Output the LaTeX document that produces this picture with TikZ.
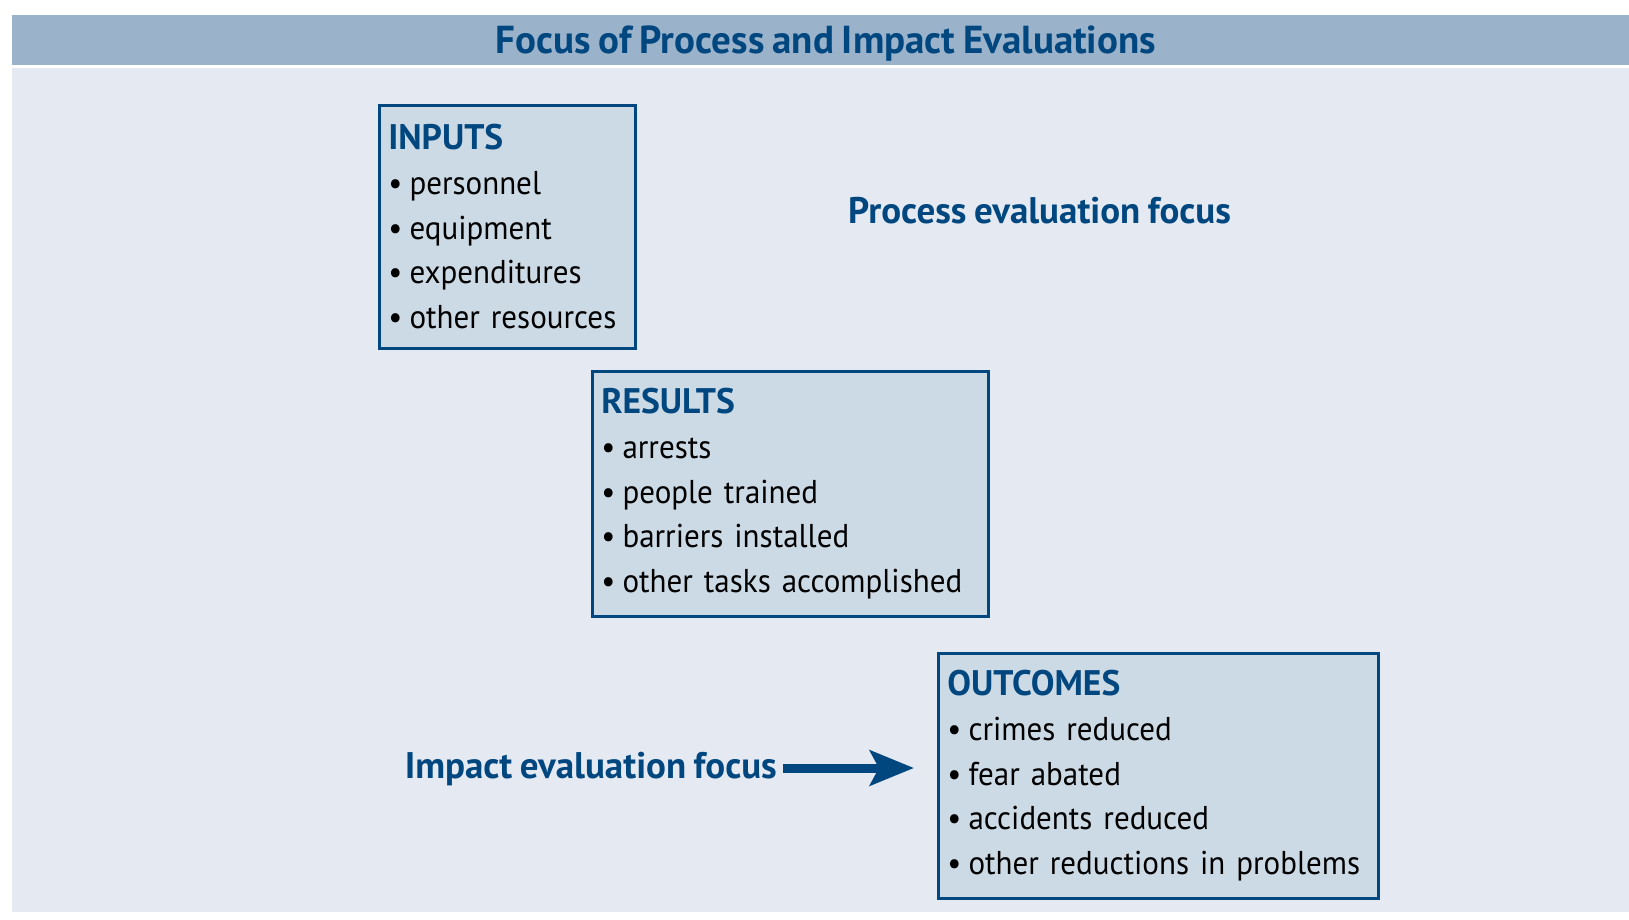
\documentclass[tikz,border=0pt]{standalone}
\usepackage{fontspec}
\setmainfont{PT Sans}[FakeStretch=0.94, WordSpace=0.8, BoldFeatures={FakeStretch=1.0}]
\usetikzlibrary{arrows.meta}
\definecolor{dblue}{HTML}{00467F}
\definecolor{barc}{HTML}{9AB3CB}
\definecolor{bgc}{HTML}{E5EAF2}
\definecolor{boxc}{HTML}{CCDAE5}
\tikzset{
  box/.style={draw=dblue, fill=boxc, line width=2.5pt, anchor=north west, align=left,
    inner xsep=9pt, inner ysep=0pt, font=\fontsize{33}{44.7}\selectfont, text=black},
  focus/.style={text=dblue, font=\fontsize{37}{40}\selectfont\bfseries, inner sep=0pt},
  bigarrow/.style={dblue, line width=9pt, -{Stealth[length=44pt, width=35pt, inset=9pt]}}
}
\newcommand{\hd}[1]{{\fontsize{35.5}{44.7}\selectfont\bfseries\color{dblue}#1}}
\newcommand{\itm}{\textbullet\hspace{0.22em}}
\begin{document}
\begin{tikzpicture}[x=1pt,y=-1pt]
\useasboundingbox (0,0) rectangle (1629,919);
\fill[white] (0,0) rectangle (1629,919);
\fill[barc] (12,15) rectangle (1629,65);
\fill[bgc] (12,68) rectangle (1629,912);
\node[focus, font=\fontsize{39}{40}\selectfont\bfseries] (title) at (826,44) {Focus of Process and Impact Evaluations};
\node[box, minimum width=256pt, minimum height=243pt, text width=238pt] (inputs) at (378,104)
  {\hd{INPUTS}\\\itm personnel\\\itm equipment\\\itm expenditures\\\itm other resources};
\node[box, minimum width=396pt, minimum height=245pt, text width=378pt] (results) at (591,370)
  {\hd{RESULTS}\\\itm arrests\\\itm people trained\\\itm barriers installed\\\itm other tasks accomplished};
\node[box, minimum width=440pt, minimum height=245pt, text width=422pt] (outcomes) at (937,652)
  {\hd{OUTCOMES}\\\itm crimes reduced\\\itm fear abated\\\itm accidents reduced\\\itm other reductions in problems};
\node[focus, anchor=west] (process) at (848,211) {Process evaluation focus};
\node[focus, anchor=east] (impact) at (777,769) {Impact evaluation focus};
\draw[bigarrow, shorten <=6pt, shorten >=23pt] ([yshift=1pt]impact.east) -- ([yshift=1pt]impact.east -| outcomes.west);
\end{tikzpicture}
\end{document}
